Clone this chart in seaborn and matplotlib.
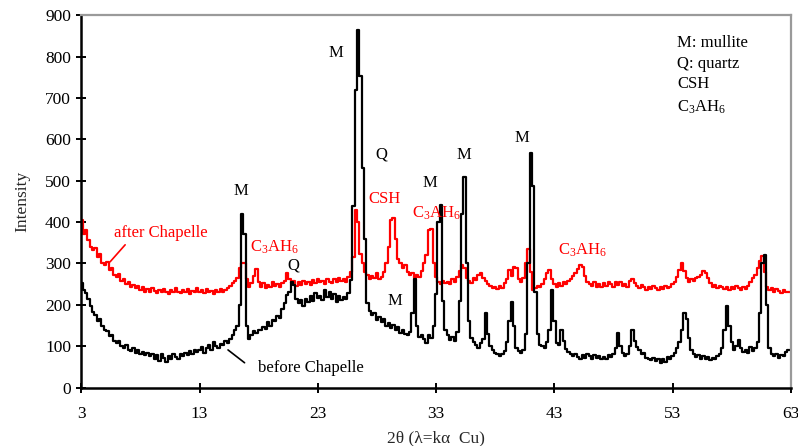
import numpy as np
import pandas as pd
import seaborn as sns
import matplotlib.pyplot as plt

dos_theta_inicio = 3.0
dos_theta_paso = 0.2

antes_chapelle = [
    252, 236, 228, 214, 196, 182, 175, 160, 166, 148,
    140, 136, 124, 128, 112, 108, 112, 100, 96, 102,
    92, 88, 95, 84, 90, 80, 86, 78, 84, 76,
    82, 70, 78, 64, 80, 72, 62, 76, 70, 82,
    74, 68, 80, 76, 84, 78, 88, 80, 92, 86,
    90, 98, 84, 96, 104, 92, 110, 100, 96, 106,
    102, 112, 108, 118, 126, 138, 150, 200, 420, 372,
    150, 118, 128, 136, 132, 140, 138, 146, 142, 158,
    148, 164, 160, 172, 168, 190, 204, 224, 232, 256,
    248, 214, 204, 212, 198, 214, 206, 222, 210, 228,
    216, 222, 212, 236, 218, 232, 214, 226, 208, 222,
    212, 218, 214, 228, 260, 440, 720, 864, 752, 530,
    360, 204, 186, 176, 180, 164, 170, 158, 166, 150,
    156, 144, 152, 140, 146, 132, 138, 130, 128, 134,
    180, 262, 150, 122, 128, 118, 108, 126, 120, 150,
    226, 400, 442, 210, 140, 128, 116, 122, 112, 134,
    210, 420, 510, 300, 160, 120, 110, 104, 96, 108,
    118, 180, 130, 100, 90, 84, 80, 76, 80, 88,
    110, 160, 208, 150, 96, 88, 84, 92, 130, 300,
    566, 486, 230, 130, 104, 100, 96, 110, 140, 236,
    160, 108, 104, 138, 112, 94, 86, 80, 76, 82,
    74, 70, 78, 72, 80, 76, 70, 78, 72, 76,
    70, 74, 68, 78, 74, 82, 96, 132, 100, 84,
    76, 82, 100, 138, 112, 98, 92, 80, 84, 72,
    70, 66, 72, 64, 70, 60, 68, 62, 74, 70,
    76, 84, 96, 110, 140, 180, 166, 120, 90, 80,
    74, 78, 70, 76, 68, 74, 66, 72, 68, 76,
    80, 96, 140, 196, 150, 110, 92, 100, 116, 96,
    86, 90, 84, 98, 88, 96, 110, 180, 300, 320,
    200, 96, 80, 76, 82, 72, 78, 76, 86, 90,
    92,
]

despues_chapelle = [
    405, 372, 380, 356, 340, 332, 338, 316, 322, 300,
    296, 304, 284, 290, 272, 268, 274, 258, 262, 250,
    256, 244, 248, 240, 246, 236, 242, 232, 238, 230,
    240, 234, 228, 236, 230, 238, 232, 226, 236, 230,
    240, 232, 228, 236, 230, 238, 226, 234, 230, 240,
    232, 236, 228, 238, 230, 234, 226, 236, 230, 238,
    232, 236, 240, 246, 252, 258, 264, 290, 302, 300,
    262, 244, 252, 270, 286, 256, 244, 252, 240, 248,
    244, 254, 246, 250, 242, 252, 258, 276, 262, 252,
    258, 246, 254, 248, 258, 250, 256, 248, 260, 252,
    262, 254, 258, 250, 262, 256, 252, 262, 256, 264,
    258, 262, 256, 268, 280, 316, 428, 400, 324, 300,
    280, 272, 262, 270, 264, 276, 262, 268, 280, 300,
    340, 406, 410, 360, 310, 300, 288, 296, 280, 272,
    278, 266, 272, 268, 282, 300, 320, 380, 384, 300,
    268, 256, 250, 258, 252, 256, 250, 262, 256, 268,
    282, 296, 290, 264, 258, 252, 264, 260, 272, 276,
    266, 258, 250, 246, 240, 244, 238, 246, 240, 252,
    262, 284, 270, 292, 288, 262, 256, 266, 300, 336,
    280, 236, 240, 246, 242, 250, 262, 276, 284, 262,
    250, 244, 252, 246, 256, 250, 258, 262, 270, 276,
    286, 296, 292, 270, 256, 250, 246, 254, 244, 250,
    242, 252, 246, 256, 250, 244, 254, 248, 256, 246,
    250, 244, 258, 262, 252, 246, 240, 248, 242, 236,
    244, 238, 246, 240, 236, 242, 238, 246, 240, 244,
    250, 256, 268, 284, 300, 282, 264, 256, 262, 258,
    264, 268, 272, 282, 276, 264, 252, 244, 248, 240,
    246, 242, 238, 244, 236, 242, 238, 246, 240, 236,
    242, 238, 246, 254, 264, 272, 290, 306, 318, 280,
    244, 236, 240, 232, 238, 234, 228, 236, 230, 232,
    230,
]

dos_theta = dos_theta_inicio + dos_theta_paso * np.arange(len(antes_chapelle))

datos = pd.DataFrame({
    'dos_theta': np.concatenate([dos_theta, dos_theta]),
    'intensidad': antes_chapelle + despues_chapelle,
    'muestra': ['before'] * len(antes_chapelle) + ['after'] * len(despues_chapelle),
})

ticks_x = [3, 13, 23, 33, 43, 53, 63]
ticks_y = list(range(0, 901, 100))

# Configurar el estilo
sns.set_style('ticks')
plt.rcParams['font.family'] = ['Liberation Serif', 'DejaVu Serif']
plt.rcParams['mathtext.fontset'] = 'custom'
plt.rcParams['mathtext.rm'] = 'Liberation Serif'
plt.rcParams['mathtext.it'] = 'Liberation Serif:italic'

fig = plt.figure(figsize=(7.98, 4.46), dpi=100)
ax = fig.add_axes([0.102, 0.131, 0.889, 0.835])

sns.lineplot(data=datos[datos['muestra'] == 'after'], x='dos_theta', y='intensidad',
             color='#ff0000', linewidth=1.6, drawstyle='steps-mid', ax=ax)
sns.lineplot(data=datos[datos['muestra'] == 'before'], x='dos_theta', y='intensidad',
             color='black', linewidth=1.6, drawstyle='steps-mid', ax=ax)

ax.set_xlim(3, 63)
ax.set_ylim(0, 900)
ax.set_xticks(ticks_x)
ax.set_yticks(ticks_y)
ax.tick_params(direction='inout', length=7, width=1.4, labelsize=12.5, colors='black')
ax.tick_params(axis='x', pad=10)
ax.tick_params(axis='y', pad=4)
for lado in ['left', 'bottom']:
    ax.spines[lado].set_color('black')
    ax.spines[lado].set_linewidth(1.8)
for lado in ['top', 'right']:
    ax.spines[lado].set_color('#9a9a9a')
    ax.spines[lado].set_linewidth(1.6)

ax.set_xlabel('2θ (λ=kα  Cu)', fontsize=12.5, labelpad=6)
ax.set_ylabel('Intensity', fontsize=12.5)
ax.yaxis.set_label_coords(-0.072, 0.5)

# Etiquetas de los picos
c3ah6 = r'C$_3$AH$_6$'
negro = [('M', 16.5, 475), ('Q', 20.9, 296), ('M', 24.5, 809), ('Q', 28.4, 564),
         ('M', 29.5, 209), ('M', 32.5, 495), ('M', 35.37, 562), ('M', 40.27, 602)]
rojo = [(c3ah6, 19.3, 340), ('CSH', 28.6, 456), (c3ah6, 33.0, 421), (c3ah6, 45.4, 332)]
for txt, x, y in negro:
    ax.text(x, y, txt, color='black', fontsize=12, ha='center', va='center')
for txt, x, y in rojo:
    ax.text(x, y, txt, color='#ff0000', fontsize=12, ha='center', va='center')

# Leyenda de fases
for txt, y in [('M: mullite', 832), ('Q: quartz', 782), ('CSH', 733), (c3ah6, 677)]:
    ax.text(53.4, y, txt, color='black', fontsize=12, ha='left', va='center')

ax.text(9.7, 373, 'after Chapelle', color='#ff0000', fontsize=12, ha='center', va='center')
ax.plot([6.7, 5.43], [345, 304], color='#ff0000', linewidth=1.2)
ax.text(22.4, 47, 'before Chapelle', color='black', fontsize=12, ha='center', va='center')
ax.plot([16.8, 15.4], [60, 91], color='black', linewidth=1.2)

plt.savefig('out.png', dpi=100)
